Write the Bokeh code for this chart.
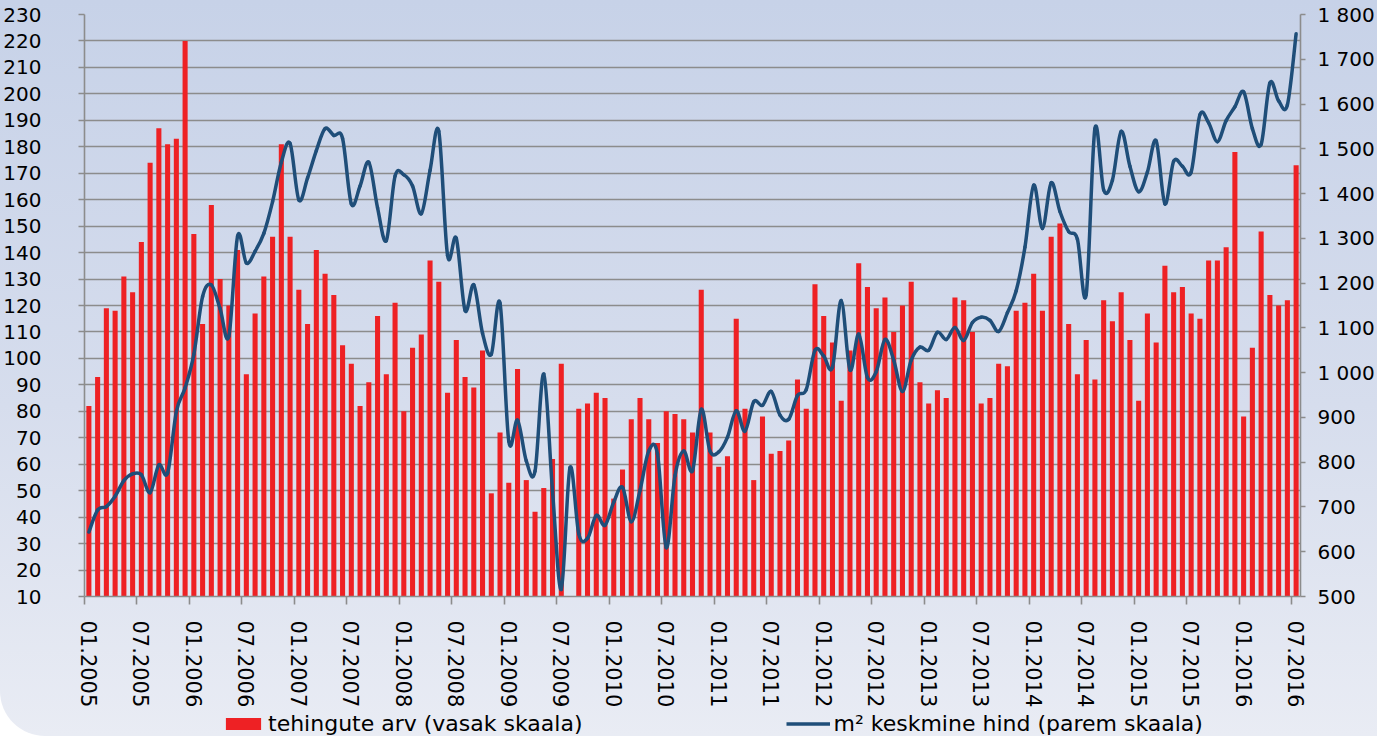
import numpy as np
from bokeh.plotting import figure
from bokeh.layouts import column
from bokeh.models import Range1d, LinearAxis, FixedTicker, Legend, LegendItem, ColumnDataSource
from bokeh.embed import file_html
from bokeh.resources import INLINE

nan = float("nan")

# monthly data 01.2005 .. 07.2016
deals = [
    82, 93, 119, 118, 131, 125, 144, 174, 187, 181, 183, 220,      # 2005
    147, 113, 158, 130, 120, 141, 94, 117, 131, 146, 181, 146,     # 2006
    126, 113, 141, 132, 124, 105, 98, 82, 91, 116, 94, 121,        # 2007
    80, 104, 109, 137, 129, 87, 107, 93, 89, 103, 49, 72,          # 2008
    53, 96, 54, 42, 51, 62, 98, nan, 81, 83, 87, 85,               # 2009
    47, 58, 77, 85, 77, 68, 80, 79, 77, 72, 126, 72,               # 2010
    59, 63, 115, 81, 54, 78, 64, 65, 69, 92, 81, 128,              # 2011
    116, 106, 84, 103, 136, 127, 119, 123, 110, 120, 129, 91,      # 2012
    83, 88, 85, 123, 122, 110, 83, 85, 98, 97, 118, 121,           # 2013
    132, 118, 146, 151, 113, 94, 107, 92, 122, 114, 125, 107,      # 2014
    84, 117, 106, 135, 125, 127, 117, 115, 137, 137, 142, 178,     # 2015
    78, 104, 148, 124, 120, 122, 173,                              # 2016
]

price = [
    644, 693, 701, 724, 759, 774, 772, 732, 794, 776, 913, 966,
    1041, 1170, 1196, 1143, 1081, 1305, 1245, 1271, 1311, 1382, 1470, 1512,
    1386, 1435, 1496, 1545, 1530, 1523, 1377, 1417, 1470, 1368, 1295, 1439,
    1442, 1417, 1355, 1452, 1539, 1262, 1300, 1139, 1196, 1088, 1041, 1155,
    847, 894, 803, 780, 997, 735, 516, 788, 640, 630, 681, 659,
    711, 744, 667, 737, 825, 818, 609, 770, 825, 781, 918, 825,
    823, 856, 915, 869, 935, 927, 958, 905, 896, 949, 962, 1050,
    1037, 1012, 1161, 1006, 1086, 989, 1002, 1074, 1028, 958, 1028, 1057,
    1050, 1090, 1074, 1101, 1072, 1112, 1124, 1117, 1092, 1134, 1183, 1280,
    1419, 1322, 1424, 1360, 1315, 1298, 1174, 1545, 1408, 1430, 1539, 1461,
    1404, 1448, 1518, 1377, 1472, 1461, 1448, 1576, 1558, 1516, 1563, 1594,
    1627, 1545, 1510, 1647, 1607, 1598, 1757,
]

tick_labels = ["01.2005", "07.2005", "01.2006", "07.2006", "01.2007", "07.2007",
               "01.2008", "07.2008", "01.2009", "07.2009", "01.2010", "07.2010",
               "01.2011", "07.2011", "01.2012", "07.2012", "01.2013", "07.2013",
               "01.2014", "07.2014", "01.2015", "07.2015", "01.2016", "07.2016"]

left_ticks = [10, 20, 30, 40, 50, 60, 70, 80, 90, 100, 110, 120, 130, 140, 150,
              160, 170, 180, 190, 200, 210, 220, 230]
right_ticks = [500, 600, 700, 800, 900, 1000, 1100, 1200, 1300, 1400, 1500, 1600, 1700, 1800]
right_labels = ["500", "600", "700", "800", "900", "1 000", "1 100", "1 200", "1 300",
                "1 400", "1 500", "1 600", "1 700", "1 800"]

label_bars = "tehingute arv (vasak skaala)"
label_line = "m\u00b2 keskmine hind (parem skaala)"

FONT = "DejaVu Sans"
GRID = "#8c8c8c"
RED = "#ee2124"
BLUE = "#1f4e79"

n = len(deals)
idx = np.arange(n, dtype=float)
tick_pos = [i for i in range(0, n, 6)]

W = 1377
H_MAIN = 710
H_LEG = 26

p = figure(width=W, height=H_MAIN, output_backend="svg", toolbar_location=None,
           x_range=Range1d(-0.5, n - 0.5), y_range=Range1d(10, 230),
           min_border_left=84, min_border_right=75, min_border_top=14, min_border_bottom=104)
p.background_fill_color = None
p.border_fill_color = None
p.outline_line_color = None

p.extra_y_ranges = {"right": Range1d(500, 1800)}

src = ColumnDataSource(dict(x=idx, deals=np.array(deals, dtype=float), price=np.array(price, dtype=float)))
p.vbar(x="x", top="deals", bottom=0, width=0.58, source=src,
       fill_color=RED, line_color=None)

# smoothed price line (cubic Bezier segments through the monthly points)
pr = np.array(price, dtype=float)
xp = np.concatenate([[idx[0]], idx, [idx[-1]]])
yp = np.concatenate([[pr[0]], pr, [pr[-1]]])
x0, y0 = idx[:-1], pr[:-1]
x1, y1 = idx[1:], pr[1:]
cx0 = x0 + (xp[2:-1] - xp[:-3]) / 6.0
cy0 = y0 + (yp[2:-1] - yp[:-3]) / 6.0
cx1 = x1 - (xp[3:] - xp[1:-2]) / 6.0
cy1 = y1 - (yp[3:] - yp[1:-2]) / 6.0
bsrc = ColumnDataSource(dict(x0=x0, y0=y0, x1=x1, y1=y1, cx0=cx0, cy0=cy0, cx1=cx1, cy1=cy1))
p.bezier(x0="x0", y0="y0", x1="x1", y1="y1", cx0="cx0", cy0="cy0", cx1="cx1", cy1="cy1",
         source=bsrc, y_range_name="right", line_color=BLUE, line_width=3.5, line_cap="round")

# grid
p.xgrid.grid_line_color = None
p.ygrid.grid_line_color = GRID
p.ygrid.grid_line_width = 1.6

# left axis
ya = p.yaxis[0]
ya.ticker = FixedTicker(ticks=left_ticks)
ya.axis_line_color = GRID
ya.axis_line_width = 1.6
ya.major_tick_line_color = GRID
ya.major_tick_line_width = 1.6
ya.major_tick_in = 0
ya.major_tick_out = 6
ya.minor_tick_line_color = None
ya.major_label_standoff = 37
ya.major_label_text_font = FONT
ya.major_label_text_font_size = "20px"
ya.major_label_text_color = "#000000"

# right axis
ra = LinearAxis(y_range_name="right", ticker=FixedTicker(ticks=right_ticks))
ra.major_label_overrides = {t: l for t, l in zip(right_ticks, right_labels)}
ra.axis_line_color = GRID
ra.axis_line_width = 1.6
ra.major_tick_line_color = GRID
ra.major_tick_line_width = 1.6
ra.major_tick_in = 0
ra.major_tick_out = 5
ra.minor_tick_line_color = None
ra.major_label_standoff = 12
ra.major_label_text_font = FONT
ra.major_label_text_font_size = "20px"
ra.major_label_text_color = "#000000"
p.add_layout(ra, "right")

# bottom axis
xa = p.xaxis[0]
xa.ticker = FixedTicker(ticks=tick_pos, minor_ticks=[t - 0.5 for t in tick_pos])
xa.major_label_overrides = {t: l for t, l in zip(tick_pos, tick_labels)}
xa.major_label_orientation = "vertical"
xa.axis_line_color = GRID
xa.axis_line_width = 1.6
xa.major_tick_line_color = None
xa.major_tick_in = 0
xa.major_tick_out = 0
xa.minor_tick_line_color = GRID
xa.minor_tick_line_width = 1.6
xa.minor_tick_in = 0
xa.minor_tick_out = 8
xa.major_label_standoff = 16
xa.major_label_text_font = FONT
xa.major_label_text_font_size = "21px"
xa.major_label_text_color = "#000000"

# legend strip below the chart: same series, drawn outside this strip's view,
# only their legend swatches show
lf = figure(width=W, height=H_LEG, output_backend="svg", toolbar_location=None,
            x_range=Range1d(-0.5, n - 0.5), y_range=Range1d(5000, 5001),
            x_axis_location=None, y_axis_location=None,
            min_border_left=0, min_border_right=0, min_border_top=0, min_border_bottom=0)
lf.background_fill_color = None
lf.border_fill_color = None
lf.outline_line_color = None
lf.xgrid.visible = False
lf.ygrid.visible = False
sw_bar = lf.vbar(x="x", top="deals", bottom=0, width=0.58, source=src, fill_color=RED, line_color=None)
sw_line = lf.line(x="x", y="price", source=src, line_color=BLUE, line_width=3.5)

legend = Legend(items=[LegendItem(label=label_bars, renderers=[sw_bar]),
                       LegendItem(label=label_line, renderers=[sw_line])],
                location=(137, 0), orientation="horizontal", spacing=204,
                glyph_width=44, glyph_height=15, label_standoff=3,
                padding=0, margin=0, border_line_color=None, background_fill_alpha=0,
                label_text_font=FONT, label_text_font_size="22px", label_text_color="#000000")
lf.add_layout(legend)

layout = column(p, lf, spacing=0,
                styles={"background": "linear-gradient(to bottom, #c7d2e8 0%, #d6dded 55%, #e9ecf4 100%)",
                        "border-bottom-left-radius": "45px"})

open("out.html", "w").write(file_html(layout, INLINE))
